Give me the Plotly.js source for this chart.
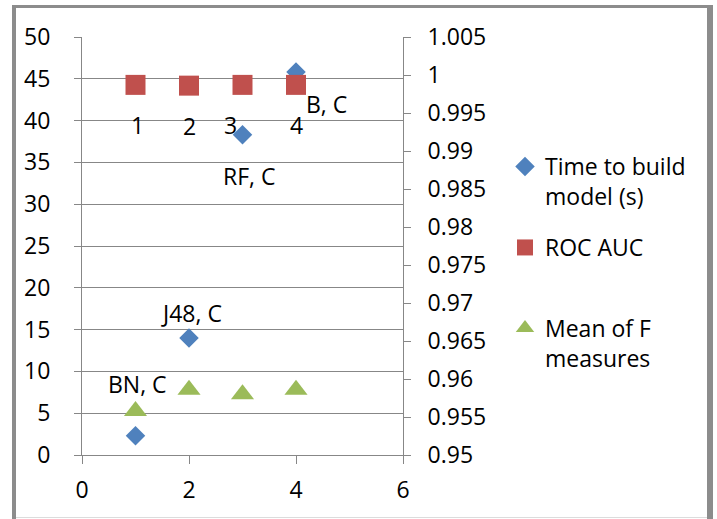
<!DOCTYPE html>
<html><head><meta charset="utf-8">
<script src="https://cdn.plot.ly/plotly-3.0.1.min.js"></script>
<style>html,body{margin:0;padding:0;background:#fff;} #chart{width:717px;height:519px;}</style>
</head><body><div id="chart"></div>
<script>
// ---- data ----
const modelIds = [1, 2, 3, 4];
const timeToBuild = [2.3, 14.0, 38.3, 45.8];
const timeLabels = ['BN, C', 'J48, C', 'RF, C', 'B, C'];
const rocAuc = [0.9987, 0.9986, 0.9987, 0.9987];
const rocLabels = ['1', '2', '3', '4'];
const meanF = [0.9558, 0.9586, 0.9580, 0.9586];
const leftTickVals = [0, 5, 10, 15, 20, 25, 30, 35, 40, 45, 50];
const rightTickVals = [0.95, 0.955, 0.96, 0.965, 0.97, 0.975, 0.98, 0.985, 0.99, 0.995, 1, 1.005];
const rightTickText = ['0.95', '0.955', '0.96', '0.965', '0.97', '0.975', '0.98', '0.985', '0.99', '0.995', '1', '1.005'];
const xTickVals = [0, 2, 4, 6];

// ---- style / placement ----
const FONT = 'Open Sans, Liberation Sans, sans-serif';
const FS = 23;
const GRID = '#878787';
const timeLabelShift = [[1.5, 52], [2, 25], [6.5, -41], [30, -31.5]];
const rocLabelShift = [[1.5, -40], [0, -40], [-12, -40], [0, -40]];

const traces = [
  {x: modelIds, y: timeToBuild, type: 'scatter', mode: 'markers', name: 'Time to build<br>model (s)',
   yaxis: 'y', legend: 'legend',
   marker: {symbol: 'diamond', size: 15, color: '#4F81BD'}},
  {x: modelIds, y: rocAuc, type: 'scatter', mode: 'markers', name: 'ROC AUC',
   yaxis: 'y2', legend: 'legend2',
   marker: {symbol: 'square', size: 20, color: '#C0504D'}},
  {x: modelIds, y: meanF, type: 'scatter', mode: 'markers', name: 'Mean of F<br>measures',
   yaxis: 'y2', legend: 'legend3',
   marker: {symbol: 'triangle-up', size: 20, color: '#9BBB59'}}
];

const annotations = [];
modelIds.forEach((xv, i) => {
  annotations.push({x: xv, y: timeToBuild[i], xref: 'x', yref: 'y', text: timeLabels[i], showarrow: false,
    xshift: timeLabelShift[i][0], yshift: timeLabelShift[i][1], font: {family: FONT, size: FS, color: '#000'}});
  annotations.push({x: xv, y: rocAuc[i], xref: 'x', yref: 'y2', text: rocLabels[i], showarrow: false,
    xshift: rocLabelShift[i][0], yshift: rocLabelShift[i][1], font: {family: FONT, size: FS, color: '#000'}});
});

const L = 82, R = 403, T = 37, B = 455;
const px = v => (v - L) / (R - L);
const py = v => (B - v) / (B - T);
const legendBase = {x: px(505), xanchor: 'left', yanchor: 'top', bgcolor: 'rgba(0,0,0,0)', borderwidth: 0,
  font: {family: FONT, size: FS, color: '#000'}, valign: 'top', itemwidth: 30, itemsizing: 'trace'};

const layout = {
  width: 717, height: 519,
  margin: {l: L, r: 717 - R, t: T, b: 519 - B, pad: 0},
  paper_bgcolor: '#fff', plot_bgcolor: '#fff',
  font: {family: FONT, size: FS, color: '#000'},
  showlegend: true,
  xaxis: {range: [0, 6], tickvals: xTickVals, ticks: 'outside', ticklen: 8, tickcolor: GRID, tickwidth: 1,
    showline: true, linecolor: GRID, linewidth: 1, showgrid: false, zeroline: false,
    tickfont: {family: FONT, size: FS, color: '#000'}, ticklabelstandoff: 6},
  yaxis: {range: [0, 50], tickvals: leftTickVals, ticks: 'outside', ticklen: 7, tickcolor: GRID, tickwidth: 1,
    showline: true, linecolor: GRID, linewidth: 1, showgrid: true, gridcolor: GRID, gridwidth: 1, zeroline: false,
    tickfont: {family: FONT, size: FS, color: '#000'}, ticklabelstandoff: 19},
  yaxis2: {range: [0.95, 1.005], overlaying: 'y', side: 'right', tickvals: rightTickVals, ticktext: rightTickText,
    ticks: 'outside', ticklen: 7, tickcolor: GRID, tickwidth: 1, showline: true, linecolor: GRID, linewidth: 1,
    showgrid: false, zeroline: false, tickfont: {family: FONT, size: FS, color: '#000'}, ticklabelstandoff: 12},
  legend: Object.assign({}, legendBase, {y: py(145)}),
  legend2: Object.assign({}, legendBase, {y: py(226)}),
  legend3: Object.assign({}, legendBase, {y: py(306.5)}),
  annotations: annotations,
  shapes: [
    {type: 'line', xref: 'paper', yref: 'paper', x0: px(12), x1: px(713), y0: py(6.5), y1: py(6.5), line: {color: '#8c8c8c', width: 3}},
    {type: 'line', xref: 'paper', yref: 'paper', x0: px(14), x1: px(14), y0: py(5), y1: py(519), line: {color: '#8c8c8c', width: 4}},
    {type: 'line', xref: 'paper', yref: 'paper', x0: px(710), x1: px(710), y0: py(5), y1: py(519), line: {color: '#8c8c8c', width: 6}},
    {type: 'line', xref: 'paper', yref: 'paper', x0: px(16), x1: px(707), y0: py(517.5), y1: py(517.5), line: {color: '#dcdcdc', width: 1}}
  ]
};

Plotly.newPlot('chart', traces, layout, {displayModeBar: false, staticPlot: true});
</script>
</body></html>
